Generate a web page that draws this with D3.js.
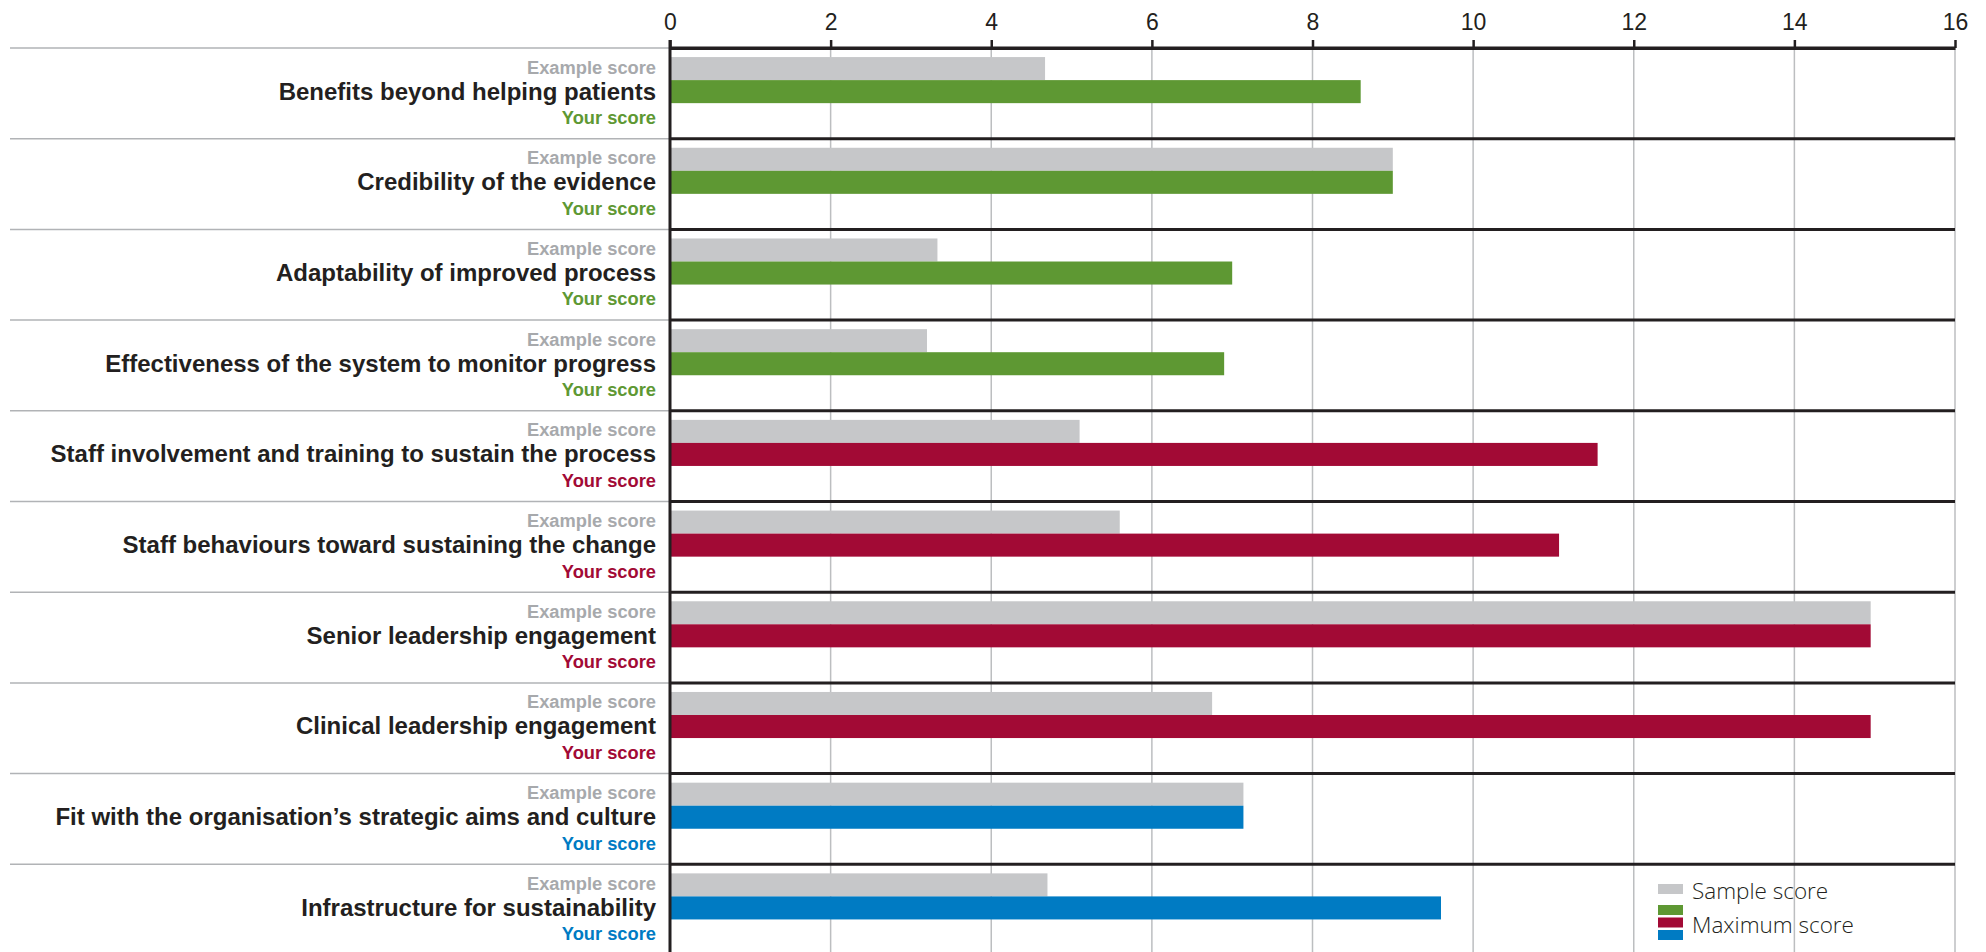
<!DOCTYPE html>
<html>
<head>
<meta charset="utf-8">
<script src="https://cdn.jsdelivr.net/npm/d3@7"></script>
<style>
  html, body { margin: 0; padding: 0; background: #fff; }
  svg { display: block; font-family: "Open Sans", sans-serif; }
  .tick text { font-size: 23px; font-weight: 300; fill: #231f20; }
  .cat { font-family: "Liberation Sans", Arial, sans-serif; font-size: 24px; font-weight: 700; fill: #231f20; }
  .sub { font-family: "Liberation Sans", Arial, sans-serif; font-size: 18.3px; font-weight: 700; }
  .legend text { font-size: 22.5px; font-weight: 300; fill: #231f20; }
</style>
</head>
<body>
<div id="chart"></div>
<script>
const categories = [
  "Benefits beyond helping patients",
  "Credibility of the evidence",
  "Adaptability of improved process",
  "Effectiveness of the system to monitor progress",
  "Staff involvement and training to sustain the process",
  "Staff behaviours toward sustaining the change",
  "Senior leadership engagement",
  "Clinical leadership engagement",
  "Fit with the organisation\u2019s strategic aims and culture",
  "Infrastructure for sustainability"
];
const exampleScores = [4.67, 9.0, 3.33, 3.2, 5.1, 5.6, 14.95, 6.75, 7.14, 4.7];
const yourScores = [8.6, 9.0, 7.0, 6.9, 11.55, 11.07, 14.95, 14.95, 7.14, 9.6];
const themes = ["process", "process", "process", "process",
  "staff", "staff", "staff", "staff",
  "organisation", "organisation"];
const xTicks = [0, 2, 4, 6, 8, 10, 12, 14, 16];
const legendLabels = ["Sample score", "Maximum score"];

const W = 1986, H = 952;
const themeColor = { process: "#5e9833", staff: "#a20a35", organisation: "#007bc3" };
const greyBar = "#c6c7c9";
const greyText = "#a7a9ac";
const dark = "#231f20";

const svg = d3.select("#chart").append("svg")
  .attr("width", W).attr("height", H);

const x = d3.scaleLinear().domain([0, 16]).range([670, 1955]);
const y = d3.scaleBand().domain(categories).range([48, 48 + 90.7 * categories.length]);
const bh = y.bandwidth() * 0.254;
const boff = y.bandwidth() * 0.1;

const rows = categories.map((c, i) => ({
  name: c, example: exampleScores[i], yours: yourScores[i], theme: themes[i]
}));

// vertical gridlines
svg.append("g").selectAll("line")
  .data(xTicks.filter(t => t > 0))
  .join("line")
  .attr("x1", d => x(d)).attr("x2", d => x(d))
  .attr("y1", 48).attr("y2", H)
  .attr("stroke", "#bcbec0").attr("stroke-width", 1.5);

// bars
const bars = svg.append("g");
bars.selectAll(".ex")
  .data(rows).join("rect").attr("class", "ex")
  .attr("x", x(0)).attr("y", d => y(d.name) + boff)
  .attr("width", d => x(d.example) - x(0)).attr("height", bh)
  .attr("fill", greyBar);
bars.selectAll(".yo")
  .data(rows).join("rect").attr("class", "yo")
  .attr("x", x(0)).attr("y", d => y(d.name) + boff + bh)
  .attr("width", d => x(d.yours) - x(0)).attr("height", bh)
  .attr("fill", d => themeColor[d.theme]);

// row separators: grey on the label side, dark across the plot
const seps = svg.append("g");
seps.selectAll(".sl")
  .data(rows).join("line").attr("class", "sl")
  .attr("x1", 10).attr("x2", x(0))
  .attr("y1", d => y(d.name)).attr("y2", d => y(d.name))
  .attr("stroke", "#b1b3b6").attr("stroke-width", 1.5);
seps.selectAll(".sr")
  .data(rows).join("line").attr("class", "sr")
  .attr("x1", x(0)).attr("x2", x(16))
  .attr("y1", d => y(d.name)).attr("y2", d => y(d.name))
  .attr("stroke", dark).attr("stroke-width", 3);

// top axis
const axis = svg.append("g")
  .attr("transform", "translate(0,48)")
  .call(d3.axisTop(x).tickValues(xTicks).tickSize(8).tickSizeOuter(0).tickPadding(10));
axis.select(".domain").attr("stroke", dark).attr("stroke-width", 3);
axis.selectAll(".tick line").attr("stroke", dark).attr("stroke-width", 2.5);
axis.selectAll(".tick text").attr("font-family", null).attr("font-size", null);

// left axis line
svg.append("line")
  .attr("x1", x(0)).attr("x2", x(0)).attr("y1", 40).attr("y2", H)
  .attr("stroke", dark).attr("stroke-width", 3);

// labels
const labels = svg.append("g").attr("text-anchor", "end");
rows.forEach(d => {
  const top = y(d.name);
  labels.append("text").attr("class", "sub")
    .attr("x", 656).attr("y", top + 25.5).attr("fill", greyText).text("Example score");
  labels.append("text").attr("class", "cat")
    .attr("x", 656).attr("y", top + 51.5).text(d.name);
  labels.append("text").attr("class", "sub")
    .attr("x", 656).attr("y", top + 76).attr("fill", themeColor[d.theme]).text("Your score");
});

// legend
const lg = svg.append("g").attr("class", "legend").attr("transform", "translate(1658,884)");
lg.append("rect").attr("x", 0).attr("y", 0).attr("width", 25).attr("height", 10).attr("fill", greyBar);
["process", "staff", "organisation"].forEach((t, i) => {
  lg.append("rect").attr("x", 0).attr("y", 21 + i * 12.5)
    .attr("width", 25).attr("height", 10).attr("fill", themeColor[t]);
});
lg.selectAll("text").data(legendLabels).join("text")
  .attr("x", 34).attr("y", (d, i) => i === 0 ? 15 : 49)
  .text(d => d);
</script>
</body>
</html>
